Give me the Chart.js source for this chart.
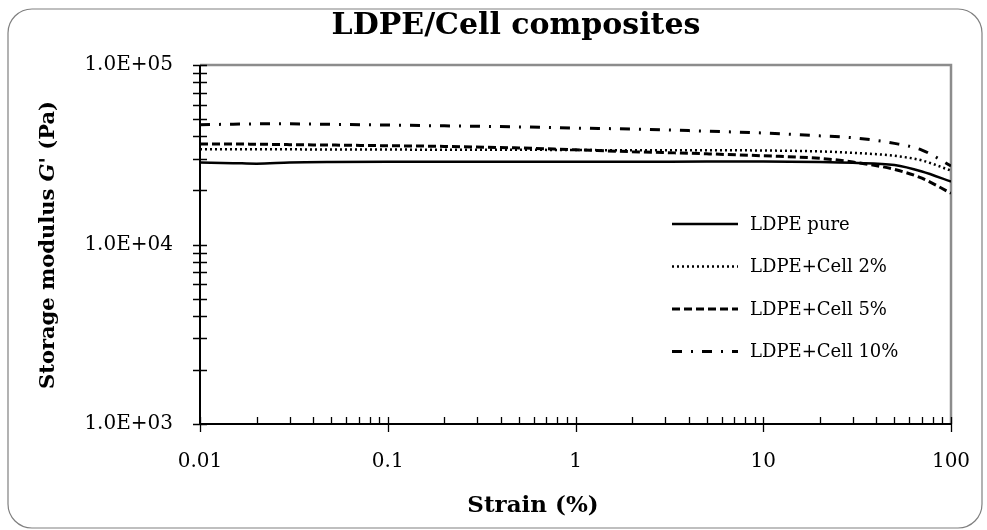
<!DOCTYPE html>
<html><head><meta charset="utf-8">
<script src="https://cdn.jsdelivr.net/npm/chart.js@4.4.0/dist/chart.umd.min.js"></script>
<style>html,body{margin:0;padding:0;background:#fff;}canvas{display:block;}</style>
</head><body>
<canvas id="c" width="987" height="530"></canvas>
<script>
// ---- data ----
const strain   = [0.01, 0.015, 0.02, 0.03, 0.05, 0.1, 0.2, 0.5, 1, 2, 5, 10, 20, 30, 50, 70, 100];
const gPure    = [28600, 28400, 28200, 28600, 28800, 28900, 28900, 28900, 28900, 28900, 29000, 29000, 28800, 28500, 27700, 25500, 22400];
const gCell2   = [33900, 33900, 33900, 33900, 33800, 33800, 33700, 33700, 33600, 33500, 33500, 33400, 33000, 32400, 31200, 29400, 25800];
const gCell5   = [36300, 36300, 36200, 36000, 35800, 35500, 35200, 34500, 33700, 32900, 32000, 31200, 30200, 28800, 26200, 23400, 19300];
const gCell10  = [46500, 46800, 47000, 47000, 46700, 46300, 45800, 45200, 44500, 44000, 42800, 41800, 40300, 39300, 36600, 33600, 27400];
const seriesLabels = ['LDPE pure', 'LDPE+Cell 2%', 'LDPE+Cell 5%', 'LDPE+Cell 10%'];
const xTickValues = [0.01, 0.1, 1, 10, 100];
const xTickLabels = ['0.01', '0.1', '1', '10', '100'];
const yTickValues = [1e3, 1e4, 1e5];
const yTickLabels = ['1.0E+03', '1.0E+04', '1.0E+05'];
const chartTitle = 'LDPE/Cell composites';
const xTitle = 'Strain (%)';
const yTitleParts = [['Storage modulus ', 'bold'], ["G'", 'italic bold'], [' (Pa)', 'bold']];

const FONT = '"DejaVu Serif", "Liberation Serif", serif';
const pts = ys => strain.map((s, i) => ({x: s, y: ys[i]}));
const styles = [
  {borderWidth: 2.5, borderDash: []},
  {borderWidth: 2.5, borderDash: [2, 3]},
  {borderWidth: 3, borderDash: [8, 4]},
  {borderWidth: 3, borderDash: [10, 9, 2, 9]}
];
const seriesData = [gPure, gCell2, gCell5, gCell10];
const datasets = seriesData.map((d, i) => Object.assign({
  label: seriesLabels[i], data: pts(d), borderColor: '#000', backgroundColor: '#000',
  pointRadius: 0, fill: false, cubicInterpolationMode: 'monotone', borderCapStyle: 'butt'
}, styles[i]));

function matchLabel(v, vals, labels) {
  for (let i = 0; i < vals.length; i++) if (Math.abs(v - vals[i]) / vals[i] < 1e-6) return labels[i];
  return '';
}

const decor = {
  id: 'decor',
  beforeDatasetsDraw(chart) {
    const ctx = chart.ctx, a = chart.chartArea;
    const xs = chart.scales.x, ys = chart.scales.y;
    ctx.save();
    // outer rounded border
    ctx.strokeStyle = '#808080'; ctx.lineWidth = 1.2;
    ctx.beginPath(); ctx.roundRect(8, 9, 974, 519, 24); ctx.stroke();
    // plot frame top/right grey
    ctx.strokeStyle = '#8c8c8c'; ctx.lineWidth = 2.5;
    ctx.beginPath(); ctx.moveTo(a.left, a.top); ctx.lineTo(a.right, a.top); ctx.lineTo(a.right, a.bottom); ctx.stroke();
    // ticks
    ctx.strokeStyle = '#000'; ctx.lineWidth = 1.3;
    ctx.beginPath();
    for (let e = 3; e <= 5; e++) for (let m = 1; m <= 9; m++) {
      const v = m * Math.pow(10, e); if (v > 1e5 * 1.0001) continue;
      const p = Math.round(ys.getPixelForValue(v)) + 0.5;
      ctx.moveTo(a.left - 7, p); ctx.lineTo(a.left + 7, p);
    }
    for (let e = -2; e <= 2; e++) for (let m = 1; m <= 9; m++) {
      const v = m * Math.pow(10, e); if (v > 100 * 1.0001) continue;
      const p = Math.round(xs.getPixelForValue(v)) + 0.5;
      ctx.moveTo(p, a.bottom - 7); ctx.lineTo(p, a.bottom + (m === 1 ? 8 : 0));
    }
    ctx.stroke();
    ctx.restore();
  },
  afterDatasetsDraw(chart) {
    const ctx = chart.ctx, a = chart.chartArea;
    ctx.save();
    // axes black
    ctx.strokeStyle = '#000'; ctx.lineWidth = 2;
    ctx.beginPath(); ctx.moveTo(a.left, a.top); ctx.lineTo(a.left, a.bottom); ctx.lineTo(a.right, a.bottom); ctx.stroke();
    // title
    ctx.fillStyle = '#000';
    ctx.font = 'bold 30px ' + FONT; ctx.textAlign = 'center'; ctx.textBaseline = 'alphabetic';
    ctx.fillText(chartTitle, 516, 34);
    // x title
    ctx.font = 'bold 23px ' + FONT;
    ctx.fillText(xTitle, 533, 512);
    // y title (mixed fonts)
    ctx.translate(54, 245); ctx.rotate(-Math.PI / 2);
    let total = 0;
    yTitleParts.forEach(p => { ctx.font = p[1] + ' 21px ' + FONT; total += ctx.measureText(p[0]).width; });
    let x = -total / 2; ctx.textAlign = 'left';
    yTitleParts.forEach(p => { ctx.font = p[1] + ' 21px ' + FONT; ctx.fillText(p[0], x, 0); x += ctx.measureText(p[0]).width; });
    ctx.restore();
    // legend
    ctx.save();
    const lx0 = 672, lx1 = 738, tx = 750, y0 = 224, step = 42.5;
    chart.data.datasets.forEach((ds, i) => {
      const y = y0 + i * step;
      ctx.strokeStyle = ds.borderColor; ctx.lineWidth = ds.borderWidth; ctx.lineCap = 'butt';
      ctx.setLineDash(ds.borderDash || []);
      ctx.beginPath(); ctx.moveTo(lx0, y); ctx.lineTo(lx1, y); ctx.stroke();
      ctx.setLineDash([]);
      ctx.fillStyle = '#000'; ctx.font = '18px ' + FONT; ctx.textAlign = 'left'; ctx.textBaseline = 'middle';
      ctx.fillText(ds.label, tx, y + 1);
    });
    ctx.restore();
  }
};

new Chart(document.getElementById('c'), {
  type: 'line',
  data: {datasets},
  plugins: [decor],
  options: {
    responsive: false, devicePixelRatio: 1, animation: false,
    layout: {padding: {left: 50, right: 36, top: 65, bottom: 0}},
    plugins: {legend: {display: false}, tooltip: {enabled: false}, title: {display: false}},
    scales: {
      x: {
        type: 'logarithmic', min: 0.01, max: 100,
        grid: {display: false, drawTicks: false}, border: {display: false},
        afterFit: s => { s.height = 106; s.paddingRight = 0; s.paddingLeft = 0; },
        ticks: {autoSkip: false, maxRotation: 0, padding: 26, color: '#000', font: {family: FONT, size: 20},
          callback: v => matchLabel(v, xTickValues, xTickLabels)}
      },
      y: {
        type: 'logarithmic', min: 1e3, max: 1e5,
        grid: {display: false, drawTicks: false}, border: {display: false},
        afterFit: s => { s.width = 150; s.paddingTop = 0; s.paddingBottom = 0; },
        ticks: {autoSkip: false, padding: 27, color: '#000', font: {family: FONT, size: 20},
          callback: v => matchLabel(v, yTickValues, yTickLabels)}
      }
    }
  }
});
</script>
</body></html>
